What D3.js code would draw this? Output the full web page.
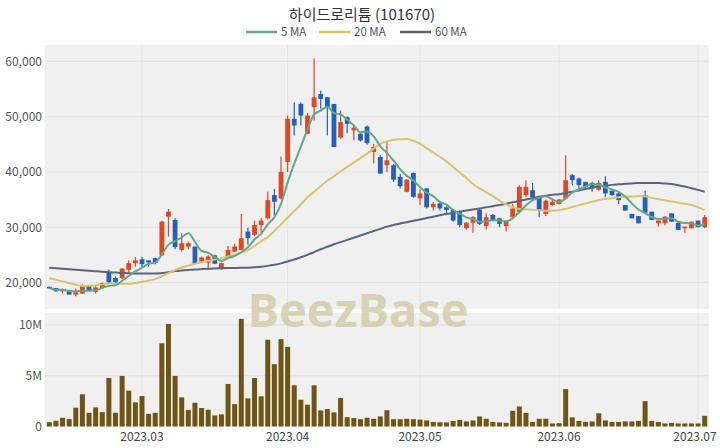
<!DOCTYPE html>
<html><head><meta charset="utf-8">
<script src="https://cdn.jsdelivr.net/npm/d3@7"></script>
<style>body{margin:0;background:#fff;}svg{display:block;}</style>
</head><body>
<svg id="c" width="720" height="448"></svg>
<script>
const dates = [
"2023-02-09","2023-02-10","2023-02-13","2023-02-14","2023-02-15","2023-02-16","2023-02-17","2023-02-20","2023-02-21","2023-02-22","2023-02-23","2023-02-24","2023-02-27","2023-02-28",
"2023-03-02","2023-03-03","2023-03-06","2023-03-07","2023-03-08","2023-03-09","2023-03-10","2023-03-13","2023-03-14","2023-03-15","2023-03-16","2023-03-17","2023-03-20","2023-03-21","2023-03-22","2023-03-23","2023-03-24","2023-03-27","2023-03-28","2023-03-29","2023-03-30","2023-03-31",
"2023-04-03","2023-04-04","2023-04-05","2023-04-06","2023-04-07","2023-04-10","2023-04-11","2023-04-12","2023-04-13","2023-04-14","2023-04-17","2023-04-18","2023-04-19","2023-04-20","2023-04-21","2023-04-24","2023-04-25","2023-04-26","2023-04-27","2023-04-28",
"2023-05-02","2023-05-03","2023-05-04","2023-05-08","2023-05-09","2023-05-10","2023-05-11","2023-05-12","2023-05-15","2023-05-16","2023-05-17","2023-05-18","2023-05-19","2023-05-22","2023-05-23","2023-05-24","2023-05-25","2023-05-26","2023-05-29","2023-05-30","2023-05-31",
"2023-06-01","2023-06-02","2023-06-05","2023-06-07","2023-06-08","2023-06-09","2023-06-12","2023-06-13","2023-06-14","2023-06-15","2023-06-16","2023-06-19","2023-06-20","2023-06-21","2023-06-22","2023-06-23","2023-06-26","2023-06-27","2023-06-28","2023-06-29","2023-06-30",
"2023-07-03","2023-07-04"];

const open = [19200,19000,18400,18500,17800,18000,19400,18300,19000,21800,20800,20800,22300,23500,
24200,24000,24400,24900,31900,31300,25900,26500,26500,23800,23600,24900,22400,24700,25600,25900,29200,28600,30400,31600,35800,35200,
41800,49600,52300,46900,51700,54100,53500,52300,46200,49900,47500,46900,48200,43600,42700,41200,41200,39100,36400,39800,
35200,37000,33600,34300,33600,33100,32800,29800,30800,33200,30200,32200,31600,30200,31800,32800,35800,36700,35400,32400,34000,
34200,35200,39400,38800,38200,38000,36800,38200,36600,36100,34000,32400,32000,35800,32800,30700,30700,32500,30800,29800,29800,
31200,30000];
const high = [19300,19000,18900,18500,18900,19700,19400,19400,20000,22300,21100,22600,24000,24600,
24600,24000,24500,31100,33300,31600,28900,27400,26500,24700,24900,25000,23600,26600,27000,32400,29900,31200,31600,36400,36900,42800,
50200,52600,52600,50700,60500,54700,53500,52300,51100,50000,48300,47000,48400,45100,43000,45600,41400,39600,38700,39900,
36800,37100,34600,34700,34000,33300,33000,31000,32000,33300,32500,32400,31700,31200,34200,37600,38500,38000,35500,35000,35000,
35100,43000,39600,39000,38200,38200,38500,39200,36700,36200,34000,32400,32000,36600,32800,31200,32000,32500,30800,30100,31000,
31200,32200];
const low = [18900,18300,18000,17800,17500,17900,18400,18000,18900,19900,19800,20600,21600,22900,
22700,22900,23300,24800,28300,26000,25600,26000,23300,23500,22300,23300,22300,24500,25500,25800,26800,28400,29000,31400,32000,35000,
40000,46600,48400,46800,49300,51400,46600,44500,46000,47000,45700,45500,44900,41500,39600,40000,38200,37000,36300,35300,
34000,33400,33000,33000,32200,31000,30000,29600,29000,30400,29600,31200,30000,29200,31600,32600,35500,35300,31800,32000,33900,
34100,35000,37600,36800,36900,36400,36600,35400,35700,34200,33000,31600,30700,32500,31300,30100,30300,31000,29500,29000,29800,
30000,29800];
const close = [19000,18400,18700,17800,18200,19400,18500,19100,19900,20000,20000,22500,23500,24000,
23300,23600,23500,31000,32800,26400,27100,27100,23400,24500,24700,23400,23500,25900,26500,28000,28000,30400,31200,34900,34600,40000,
49600,48400,50200,50200,53500,53200,51700,44500,49000,48700,48000,45700,45200,44500,39700,42100,38600,37400,38600,35500,
36100,33600,34200,33400,33100,31200,30400,30800,31800,30600,31800,31300,30600,31000,33400,37300,37300,35400,33100,34800,34600,
35000,38500,38500,37600,37300,37000,38000,36100,35800,34900,33000,31600,30700,32600,31300,31200,31900,31000,29500,30100,31000,
30000,31800];
const volume = [430000,560000,860000,730000,1850000,3170000,1350000,1880000,1420000,4780000,1350000,4980000,3530000,2380000,
3000000,1250000,1350000,8200000,10100000,4980000,2870000,1620000,2340000,1820000,1650000,1090000,1190000,4190000,2210000,10600000,2770000,4780000,2970000,8550000,6140000,8600000,
7850000,4060000,2640000,2150000,4060000,1580000,1720000,1390000,2800000,920000,830000,720000,860000,760000,990000,1600000,720000,720000,760000,720000,
680000,600000,450000,420000,400000,550000,650000,500000,600000,990000,760000,450000,400000,360000,1550000,1970000,1350000,450000,760000,760000,300000,
330000,3680000,900000,550000,450000,500000,1300000,600000,450000,450000,500000,500000,550000,2500000,550000,450000,300000,350000,300000,300000,300000,
300000,1050000];
const ma20 = [20760,20480,20200,19900,19600,19370,19420,19500,19650,19800,19820,19760,19760,19900,
20100,20350,20600,21100,21700,22250,22700,23050,23400,23650,23920,24150,24400,24700,25000,25350,25850,26600,27450,28200,29300,30500,
31700,32900,34100,35400,36400,37450,38400,39200,40100,40900,41700,42500,43300,44200,45050,45500,45800,45920,45960,45600,
45100,44300,43500,42700,41900,40900,39900,38900,37800,37000,36300,35600,34800,34100,33600,33300,33220,33150,33050,32960,33000,
33060,33300,33650,33990,34300,34600,34900,35100,35250,35400,35500,35550,35600,35610,35300,35050,34850,34650,34450,34250,34000,
33600,33090];
const ma60 = [22670,22580,22490,22400,22310,22220,22130,22030,21930,21850,21780,21700,21660,21640,
21620,21600,21600,21700,21850,22050,22150,22250,22350,22420,22480,22530,22570,22600,22620,22640,22680,22750,22850,23000,23200,23450,
23780,24150,24550,25000,25500,26000,26450,26900,27300,27700,28100,28500,28900,29300,29700,30100,30400,30650,30900,31150,
31400,31650,31900,32150,32400,32600,32800,33000,33200,33400,33600,33800,34000,34250,34500,34750,35000,35250,35500,35700,35850,
35950,36200,36400,36650,36900,37150,37350,37500,37650,37750,37850,37920,37980,38000,38000,37980,37920,37800,37600,37350,37050,
36750,36400];
const monthTicks = ["2023-03-02","2023-04-03","2023-05-02","2023-06-01","2023-07-03"];
const monthLabels = ["2023.03","2023.04","2023.05","2023.06","2023.07"];
const priceTicks = [20000,30000,40000,50000,60000];
const volTicks = [0,5000000,10000000];
const volTickLabels = ["0","5M","10M"];
const title = "하이드로리튬 (101670)";
const legendNames = ["5 MA","20 MA","60 MA"];

// 5-day moving average from closes (partial window at start)
const ma5 = close.map((c,i)=>d3.mean(close.slice(Math.max(0,i-4), i+1)));

const C = {up:"#e8451e", down:"#2260c0", vol:"#6e5415", ma5:"#63a58f", ma20:"#d8c46c", ma60:"#5b6479",
  bg:"#f0f0f0", grid:"#e2e2e2", text:"#555"};
const font = "'Noto Sans CJK KR','Noto Sans',sans-serif";
const svg = d3.select("#c");
const L=45, R=709, PT=45, PB=309, VT=313, VB=426.5;

const x = d3.scaleBand().domain(dates).range([L,R]).padding(0.3);
const cx = d => x(d) + x.bandwidth()/2;
const y = d3.scaleLinear().domain([15200,62950]).range([PB,PT]);
const yv = d3.scaleLinear().domain([0,11180000]).range([VB,VT]);

// backgrounds
svg.append("rect").attr("x",L).attr("y",PT).attr("width",R-L).attr("height",PB-PT).attr("fill",C.bg);
svg.append("rect").attr("x",L).attr("y",VT).attr("width",R-L).attr("height",VB-VT).attr("fill",C.bg);

// grids
svg.append("g").selectAll("line").data(priceTicks).join("line")
  .attr("x1",L).attr("x2",R).attr("y1",d=>y(d)).attr("y2",d=>y(d)).attr("stroke",C.grid).attr("stroke-width",1);
svg.append("g").selectAll("line").data(volTicks.slice(1)).join("line")
  .attr("x1",L).attr("x2",R).attr("y1",d=>yv(d)).attr("y2",d=>yv(d)).attr("stroke",C.grid).attr("stroke-width",1);
const vg = svg.append("g");
monthTicks.forEach(t=>{
  vg.append("line").attr("x1",cx(t)).attr("x2",cx(t)).attr("y1",PT).attr("y2",PB).attr("stroke",C.grid);
  vg.append("line").attr("x1",cx(t)).attr("x2",cx(t)).attr("y1",VT).attr("y2",VB).attr("stroke",C.grid);
});

// watermark
svg.append("text").attr("x",358).attr("y",327).attr("text-anchor","middle")
  .attr("font-family","'Open Sans',sans-serif").attr("font-weight",700).attr("font-size",47)
  .attr("fill","#d4cdaa").attr("opacity",0.85).text("BeezBase");

// axes labels
const yAxis = d3.axisLeft(y).tickValues(priceTicks).tickFormat(d3.format(",")).tickSize(0).tickPadding(3);
svg.append("g").attr("transform",`translate(${L},0)`).call(yAxis)
  .call(g=>g.select(".domain").remove())
  .selectAll("text").attr("font-family",font).attr("font-size",12).attr("fill",C.text);
const vAxis = d3.axisLeft(yv).tickValues(volTicks).tickFormat((d,i)=>volTickLabels[i]).tickSize(0).tickPadding(3);
svg.append("g").attr("transform",`translate(${L},0)`).call(vAxis)
  .call(g=>g.select(".domain").remove())
  .selectAll("text").attr("font-family",font).attr("font-size",12).attr("fill",C.text);
svg.append("g").selectAll("text").data(monthTicks).join("text")
  .attr("x",(d,i)=>Math.min(cx(d), 714-19)).attr("y",441).attr("text-anchor","middle")
  .attr("font-family",font).attr("font-size",12).attr("fill","#444").text((d,i)=>monthLabels[i]);

// volume bars
svg.append("g").selectAll("rect").data(dates).join("rect")
  .attr("x",d=>cx(d)-2.5).attr("width",5)
  .attr("y",(d,i)=>yv(volume[i])).attr("height",(d,i)=>VB-yv(volume[i])).attr("fill",C.vol);

// candles
const cg = svg.append("g");
dates.forEach((d,i)=>{
  const up = close[i] >= open[i];
  const col = up ? C.up : C.down;
  cg.append("line").attr("x1",cx(d)).attr("x2",cx(d)).attr("y1",y(high[i])).attr("y2",y(low[i]))
    .attr("stroke",col).attr("stroke-width",1.2);
  const top = y(Math.max(open[i],close[i])), bot = y(Math.min(open[i],close[i]));
  cg.append("rect").attr("x",cx(d)-2.4).attr("width",4.8).attr("y",top).attr("height",Math.max(1.5,bot-top)).attr("fill",col);
});

// MA lines
const line = arr => d3.line().x((d,i)=>cx(dates[i])).y(d=>y(d)).curve(d3.curveMonotoneX)(arr);
svg.append("path").attr("d",line(ma60)).attr("fill","none").attr("stroke",C.ma60).attr("stroke-width",2);
svg.append("path").attr("d",line(ma20)).attr("fill","none").attr("stroke",C.ma20).attr("stroke-width",2);
svg.append("path").attr("d",line(ma5)).attr("fill","none").attr("stroke",C.ma5).attr("stroke-width",2);

// title
svg.append("text").attr("x",362).attr("y",20).attr("text-anchor","middle").attr("font-family",font)
  .attr("font-size",15).attr("fill","#333").text(title);

// legend
const lg = svg.append("g");
const legColors = [C.ma5,C.ma20,C.ma60];
const legX = [246,319,400];
legendNames.forEach((n,i)=>{
  lg.append("line").attr("x1",legX[i]).attr("x2",legX[i]+31).attr("y1",32).attr("y2",32).attr("stroke",legColors[i]).attr("stroke-width",2.5);
  lg.append("text").attr("x",legX[i]+35).attr("y",36).attr("font-family",font).attr("font-size",11.5).attr("fill",C.text).text(n);
});
</script>
</body></html>
